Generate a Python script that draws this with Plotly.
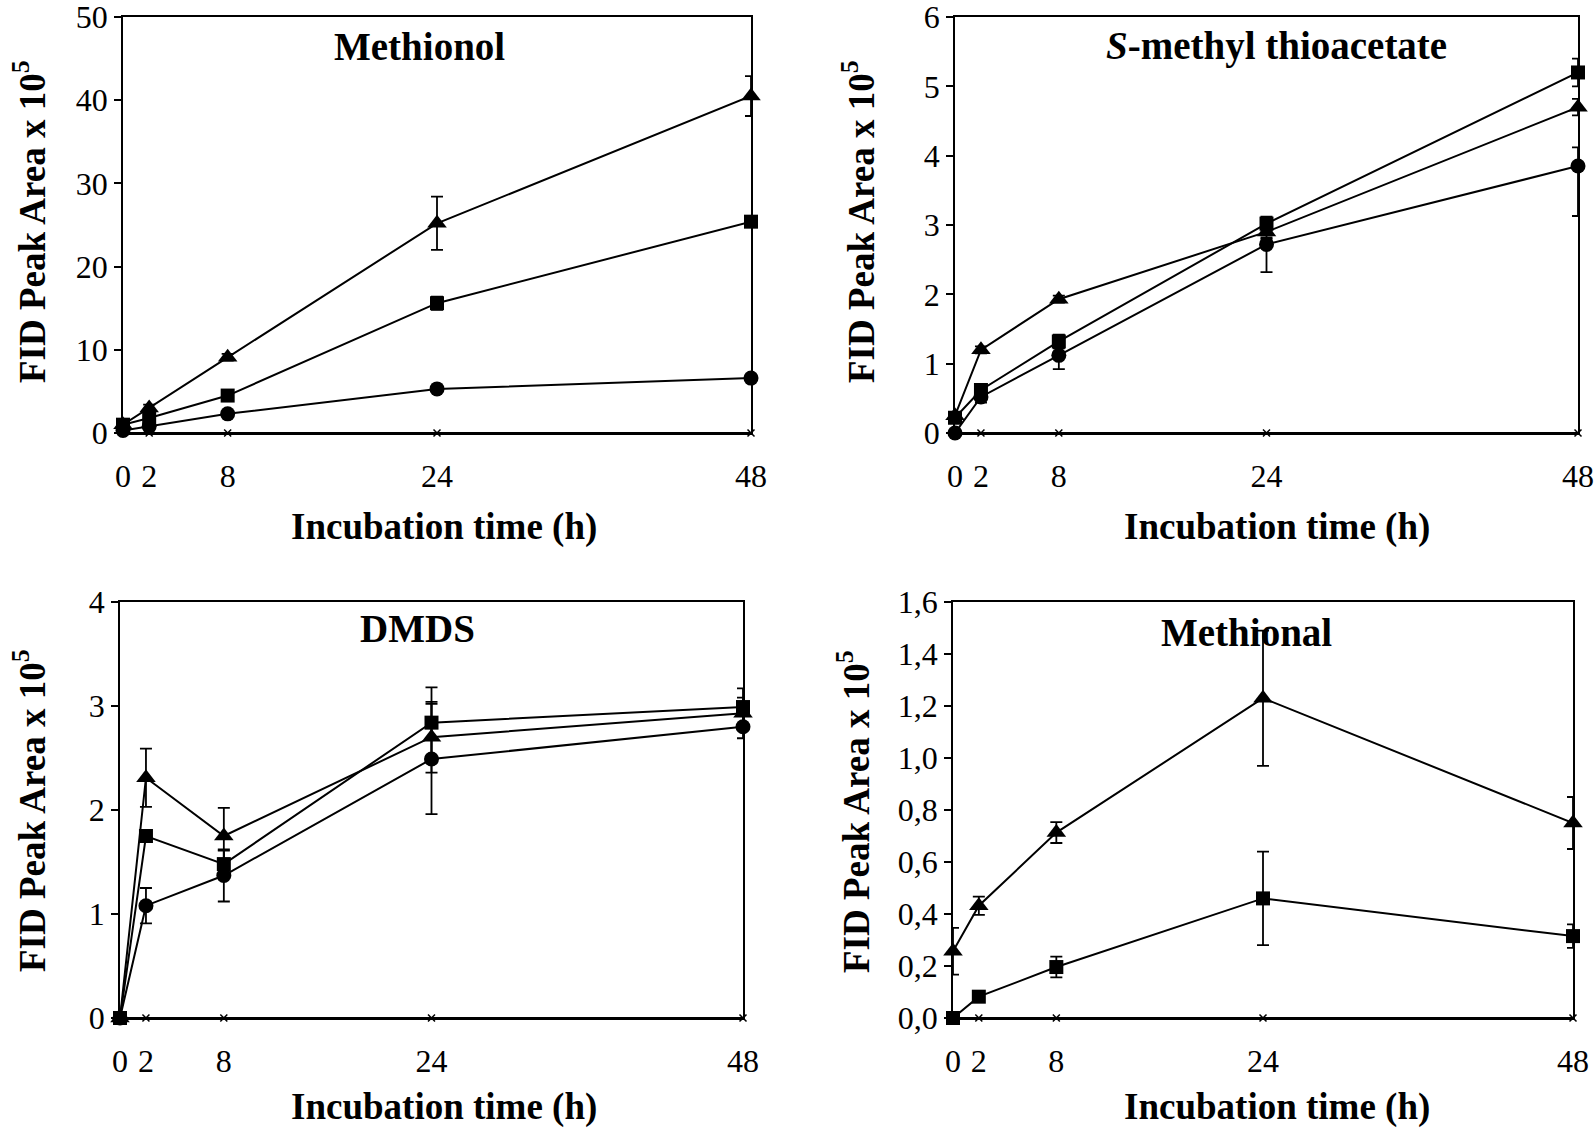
import plotly.graph_objects as go

# ---------------- data ----------------
time_h = [0, 2, 8, 24, 48]
x_tick_vals = [0, 2, 8, 24, 48]
x_tick_text = ["0", "2", "8", "24", "48"]

# Methionol
methionol_tri = [1.0, 3.0, 9.1, 25.2, 40.5]
methionol_tri_err = [0.3, 0.4, 0.4, 3.2, 2.4]
methionol_sq = [1.0, 1.8, 4.5, 15.6, 25.4]
methionol_sq_err = [0.2, 0.3, 0.3, 0.8, 0.5]
methionol_ci = [0.3, 0.8, 2.3, 5.3, 6.6]
methionol_ci_err = [0.1, 0.1, 0.2, 0.3, 0.3]

# S-methyl thioacetate
smta_tri = [0.25, 1.2, 1.93, 2.9, 4.7]
smta_tri_err = [0.05, 0.05, 0.05, 0.1, 0.12]
smta_sq = [0.22, 0.62, 1.32, 3.02, 5.2]
smta_sq_err = [0.05, 0.08, 0.1, 0.1, 0.2]
smta_ci = [0.0, 0.52, 1.12, 2.72, 3.85]
smta_ci_err_plus = [0.0, 0.08, 0.2, 0.1, 0.27]
smta_ci_err_minus = [0.0, 0.08, 0.2, 0.4, 0.72]

# DMDS
dmds_tri = [0.0, 2.31, 1.75, 2.70, 2.93]
dmds_tri_err = [0.0, 0.28, 0.27, 0.34, 0.15]
dmds_sq = [0.0, 1.75, 1.48, 2.84, 2.99]
dmds_sq_err = [0.0, 0.03, 0.13, 0.34, 0.18]
dmds_ci = [0.0, 1.08, 1.37, 2.49, 2.80]
dmds_ci_err = [0.0, 0.17, 0.25, 0.53, 0.11]

# Methional
methional_tri = [0.257, 0.432, 0.713, 1.23, 0.75]
methional_tri_err = [0.09, 0.035, 0.04, 0.26, 0.10]
methional_sq = [0.0, 0.082, 0.196, 0.46, 0.315]
methional_sq_err = [0.0, 0.01, 0.04, 0.18, 0.045]

control = [0, 0, 0, 0, 0]

panel_titles = ["Methionol", "<i>S</i>-methyl thioacetate", "DMDS", "Methional"]
y_ranges = [[0, 50], [0, 6], [0, 4], [0, 1.6]]
y_tick_vals = [[0, 10, 20, 30, 40, 50], [0, 1, 2, 3, 4, 5, 6], [0, 1, 2, 3, 4],
               [0, 0.2, 0.4, 0.6, 0.8, 1.0, 1.2, 1.4, 1.6]]
y_tick_text = [["0", "10", "20", "30", "40", "50"], ["0", "1", "2", "3", "4", "5", "6"],
               ["0", "1", "2", "3", "4"],
               ["0,0", "0,2", "0,4", "0,6", "0,8", "1,0", "1,2", "1,4", "1,6"]]
x_axis_title = "Incubation time (h)"
y_axis_title = "FID Peak Area x 10<sup>5</sup>"

# ---------------- layout geometry ----------------
W, H = 1595, 1130
FONT = "Liberation Serif"
# plot areas in window pixels (left, right, top, bottom)
areas = [(123, 751, 17, 433), (955, 1578, 17, 433), (120, 743, 602, 1018), (953, 1573, 602, 1018)]
title_pos = [(419, 46), (1276, 46), (417, 628), (1246, 632)]
ytitle_pos = [(29, 222), (858, 222), (29, 811), (853, 811)]
xtitle_pos = [(444, 527), (1277, 527), (444, 1107), (1277, 1107)]

def px(v):
    return v / W

def py(v):
    return 1 - v / H

fig = go.Figure()

def add_series(k, y, marker, size, err=None, err_minus=None, width=6):
    ax = "" if k == 0 else str(k + 1)
    ekw = None
    if err is not None:
        ekw = dict(type="data", array=err, visible=True, color="black",
                   thickness=1.8, width=width)
        if err_minus is not None:
            ekw["symmetric"] = False
            ekw["arrayminus"] = err_minus
    fig.add_trace(go.Scatter(
        x=time_h, y=y, mode="lines+markers",
        line=dict(color="black", width=2),
        marker=dict(symbol=marker, size=size, color="black"),
        error_y=ekw, cliponaxis=False, showlegend=False,
        xaxis="x" + ax, yaxis="y" + ax))

panels = [
    [(methionol_tri, methionol_tri_err, None), (methionol_sq, methionol_sq_err, None),
     (methionol_ci, methionol_ci_err, None)],
    [(smta_tri, smta_tri_err, None), (smta_sq, smta_sq_err, None),
     (smta_ci, smta_ci_err_plus, smta_ci_err_minus)],
    [(dmds_tri, dmds_tri_err, None), (dmds_sq, dmds_sq_err, None), (dmds_ci, dmds_ci_err, None)],
    [(methional_tri, methional_tri_err, None), (methional_sq, methional_sq_err, None)],
]
symbols = [("triangle-up", 17), ("square", 14), ("circle", 15)]

for k, series in enumerate(panels):
    ax = "" if k == 0 else str(k + 1)
    # control series along zero
    fig.add_trace(go.Scatter(
        x=time_h, y=control, mode="lines+markers",
        line=dict(color="black", width=2),
        marker=dict(symbol="x-thin", size=7, line=dict(width=1.5, color="black")),
        cliponaxis=False, showlegend=False, xaxis="x" + ax, yaxis="y" + ax))
    for (vals, e, em), (sym, sz) in zip(series, symbols):
        add_series(k, vals, sym, sz, e, em)

layout = dict(width=W, height=H, template="none",
              margin=dict(l=0, r=0, t=0, b=0, pad=0, autoexpand=False),
              plot_bgcolor="white", paper_bgcolor="white",
              font=dict(family=FONT, color="black"))
annotations = []
for k, (l, r, t, b) in enumerate(areas):
    ax = "" if k == 0 else str(k + 1)
    layout["xaxis" + ax] = dict(
        domain=[px(l), px(r)], range=[0, 48], anchor="y" + ax, automargin=False,
        tickvals=x_tick_vals, ticktext=x_tick_text, ticks="", ticklabelstandoff=14,
        ticklabeloverflow="allow",
        tickfont=dict(size=32, family=FONT), showgrid=False, zeroline=False,
        showline=True, linecolor="black", linewidth=1.5, mirror=True, fixedrange=True)
    layout["yaxis" + ax] = dict(
        domain=[py(b), py(t)], range=y_ranges[k], anchor="x" + ax, automargin=False,
        tickvals=y_tick_vals[k], ticktext=y_tick_text[k], ticks="outside", ticklen=7,
        tickwidth=1.5, tickcolor="black", ticklabeloverflow="allow",
        tickfont=dict(size=32, family=FONT), showgrid=False, zeroline=False,
        showline=True, linecolor="black", linewidth=1.5, mirror=True, fixedrange=True)
    tx, ty = title_pos[k]
    annotations.append(dict(text="<b>" + panel_titles[k] + "</b>", x=px(tx), y=py(ty),
                            xref="paper", yref="paper", showarrow=False,
                            font=dict(size=39, family=FONT), xanchor="center", yanchor="middle"))
    yx, yy = ytitle_pos[k]
    annotations.append(dict(text="<b>" + y_axis_title + "</b>", x=px(yx), y=py(yy),
                            xref="paper", yref="paper", showarrow=False, textangle=-90,
                            font=dict(size=37, family=FONT), xanchor="center", yanchor="middle"))
    xx, xy = xtitle_pos[k]
    annotations.append(dict(text="<b>" + x_axis_title + "</b>", x=px(xx), y=py(xy),
                            xref="paper", yref="paper", showarrow=False,
                            font=dict(size=37, family=FONT), xanchor="center", yanchor="middle"))
layout["annotations"] = annotations
fig.update_layout(**layout)
fig.write_html("out.html", config={"displayModeBar": False},
               post_script="document.body.style.margin='0px';")
